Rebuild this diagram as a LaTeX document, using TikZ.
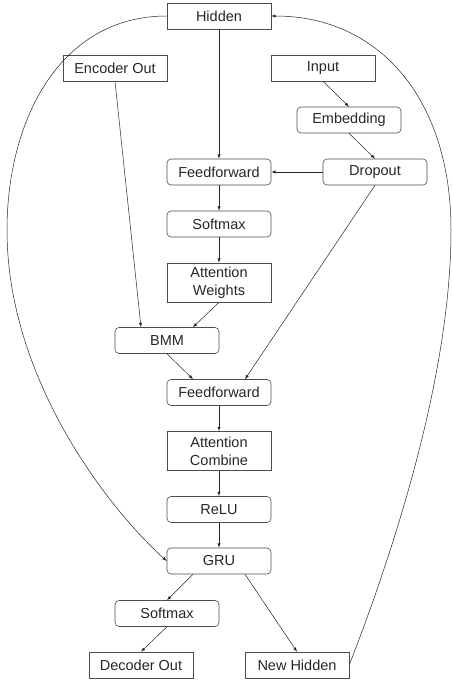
\documentclass[tikz,border=0pt]{standalone}
\usepackage{fontspec}
\setmainfont{Liberation Sans}
\usepackage{tikz}
\usetikzlibrary{positioning}

\begin{document}
\begin{tikzpicture}[x=1pt, y=-1pt, >=latex,
  every node/.style = {draw=black!70, line width=0.6pt, align=center,
    minimum width=104pt, minimum height=26pt, inner sep=1pt,
    font=\fontsize{14.5}{18}\selectfont, text=black!85},
  rbox/.style = {rounded corners=4pt},
  link/.style = {draw=black!85, line width=0.5pt, ->}
  ]
  \useasboundingbox (0,0) rectangle (451,681);
  % blocks
  \node (hidden) at (219,16) {Hidden};
  \node (encout) at (115,68) {Encoder Out};
  \node (input) at (323,68) {Input};
  \node[rbox] (embed) at (349,120) {Embedding};
  \node[rbox] (ffa) at (219,172) {Feedforward};
  \node[rbox] (drop) at (375,172) {Dropout};
  \node[rbox] (softa) at (219,224) {Softmax};
  \node[minimum height=39pt] (attw) at (219,282.5) {Attention\\Weights};
  \node[rbox] (bmm) at (167,340.5) {BMM};
  \node[rbox] (ffb) at (219,392.5) {Feedforward};
  \node[minimum height=39pt] (attc) at (219,451) {Attention\\Combine};
  \node[rbox] (relu) at (219,509.5) {ReLU};
  \node[rbox] (gru) at (219,561) {GRU};
  \node[rbox] (softb) at (167,613.5) {Softmax};
  \node (decout) at (141,665) {Decoder Out};
  \node (newhid) at (297,665) {New Hidden};
  % connectors
  \draw[link] (hidden) -- (ffa);
  \draw[link] (encout.south) -- ([xshift=-26pt]bmm.north);
  \draw[link] (input.south) -- (embed.north);
  \draw[link] (embed.south) -- (drop.north);
  \draw[link] (drop) -- (ffa);
  \draw[link] (ffa) -- (softa);
  \draw[link] (softa) -- (attw);
  \draw[link] (attw.south) -- ([xshift=26pt]bmm.north);
  \draw[link] (bmm.south) -- ([xshift=-26pt]ffb.north);
  \draw[link] (drop.south) -- ([xshift=26pt]ffb.north);
  \draw[link] (ffb) -- (attc);
  \draw[link] (attc) -- (relu);
  \draw[link] (relu) -- (gru);
  \draw[link] ([xshift=-26pt]gru.south) -- (softb.north);
  \draw[link] ([xshift=26pt]gru.south) -- (newhid.north);
  \draw[link] (softb.south) -- (decout.north);
  % loops
  \coordinate (lft) at (7,230);
  \coordinate (rgt) at (451,230);
  \draw[link] (hidden.west) .. controls (60,16) and (7,120) .. (lft)
    .. controls (7,380) and (110,510) .. (gru.west);
  \draw[link] (newhid.east) .. controls (390,560) and (451,380) .. (rgt)
    .. controls (451,100) and (380,16) .. (hidden.east);
\end{tikzpicture}
\end{document}
